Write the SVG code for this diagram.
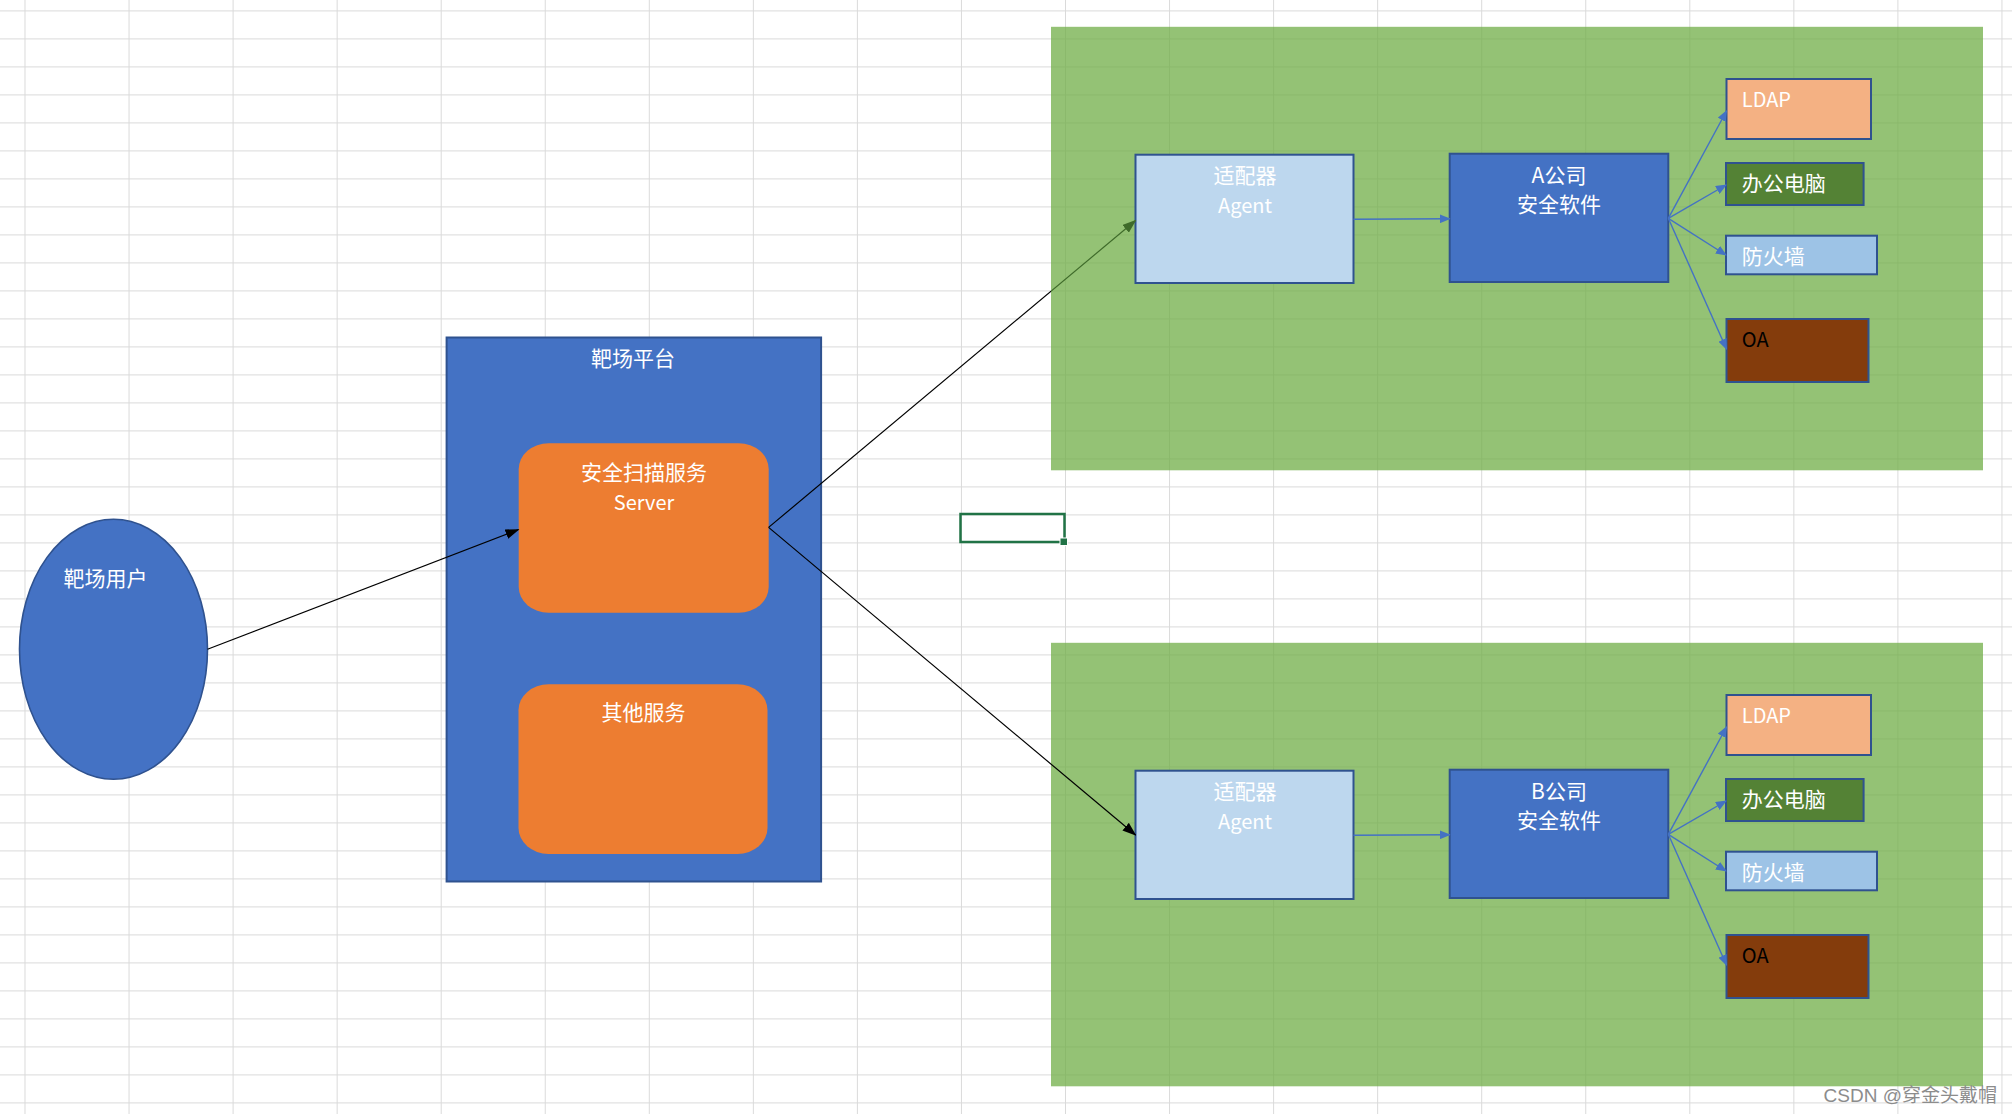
<svg xmlns="http://www.w3.org/2000/svg" width="2012" height="1114" viewBox="0 0 2012 1114">
<style>
  text { font-family: 'Noto Sans CJK SC', 'Noto Sans', sans-serif; font-size: 21px; fill: #ffffff; }
  .c { text-anchor: middle; }
  .zone { fill: #70AD47; fill-opacity: 0.75; }
  .bx { stroke: #2f528f; stroke-width: 2; }
  .blue { fill: #4472c4; }
  .agent { fill: #bdd7ee; }
  .orange { fill: #ed7d31; }
  .ldap { fill: #f4b183; }
  .pc { fill: #548235; }
  .fw { fill: #9dc3e6; }
  .oa { fill: #843c0c; }
  .lat { font-size: 20px; }
  .blk { stroke: #000; stroke-width: 1.2; fill: none; }
  .bl { stroke: #4472c4; stroke-width: 1.4; fill: none; marker-end: url(#mb); }
</style>
<defs>
  <pattern id="grid" x="24.5" y="10.4" width="104.05" height="28" patternUnits="userSpaceOnUse">
    <path d="M0.5,0 V28 M0,0.5 H104.05" stroke="#dadada" stroke-width="1" fill="none"/>
  </pattern>
  <marker id="mk" markerWidth="14" markerHeight="10" refX="13" refY="5" orient="auto" markerUnits="userSpaceOnUse">
    <path d="M0,0 L14,5 L0,10 z" fill="#000"/>
  </marker>
  <marker id="mg" markerWidth="14" markerHeight="10" refX="13" refY="5" orient="auto" markerUnits="userSpaceOnUse">
    <path d="M0,0 L14,5 L0,10 z" fill="#3f6b2a"/>
  </marker>
  <marker id="mb" markerWidth="11" markerHeight="9" refX="10" refY="4.5" orient="auto" markerUnits="userSpaceOnUse">
    <path d="M0,0 L11,4.5 L0,9 z" fill="#4472c4"/>
  </marker>
  <linearGradient id="gtop" gradientUnits="userSpaceOnUse" x1="768.6" y1="527.4" x2="1135.6" y2="220.5">
    <stop offset="0" stop-color="#000"/>
    <stop offset="0.7695" stop-color="#000"/>
    <stop offset="0.7695" stop-color="#3f6b2a"/>
    <stop offset="1" stop-color="#3f6b2a"/>
  </linearGradient>
</defs>

<rect x="0" y="0" width="2012" height="1114" fill="#ffffff"/>
<rect x="0" y="0" width="2012" height="1114" fill="url(#grid)"/>

<g id="selected-cell">
  <rect x="960.5" y="514" width="104" height="28" fill="none" stroke="#217346" stroke-width="2.5"/>
  <rect x="1060" y="538" width="7.5" height="7.5" fill="#217346" stroke="#ffffff" stroke-width="1"/>
</g>

<g id="zone-a"><rect class="zone" x="1051" y="26.8" width="932" height="443.5"/></g>
<g id="zone-b"><rect class="zone" x="1051" y="642.8" width="932" height="443.5"/></g>

<g id="platform">
  <rect class="blue bx" x="446.6" y="337.5" width="374.5" height="544"/>
  <text class="c" x="633" y="366">靶场平台</text>
</g>
<g id="scan-server">
  <rect class="orange" x="518.7" y="443.2" width="250" height="169.6" rx="30" ry="26"/>
  <text class="c" x="644" y="480">安全扫描服务</text>
  <text class="c lat" x="644" y="510">Server</text>
</g>
<g id="other-services">
  <rect class="orange" x="518.5" y="684.3" width="249" height="169.6" rx="30" ry="26"/>
  <text class="c" x="643.5" y="720">其他服务</text>
</g>
<g id="user">
  <ellipse class="blue" cx="113.5" cy="649.3" rx="94" ry="130" stroke="#2f528f" stroke-width="1.6"/>
  <text class="c" x="105.5" y="586">靶场用户</text>
</g>

<g id="agent-a">
  <rect class="agent bx" x="1135.5" y="154.7" width="218" height="128.3"/>
  <text class="c" x="1245" y="183">适配器</text>
  <text class="c lat" x="1245" y="213">Agent</text>
</g>
<g id="soft-a">
  <rect class="blue bx" x="1449.7" y="153.7" width="218.6" height="128.3"/>
  <text class="c" x="1559" y="183">A公司</text>
  <text class="c" x="1559" y="212">安全软件</text>
</g>
<g id="ldap-a">
  <rect class="ldap bx" x="1726.5" y="79" width="144.5" height="60"/>
  <text class="lat" x="1741.8" y="106.7">LDAP</text>
</g>
<g id="pc-a">
  <rect class="pc bx" x="1726" y="163" width="137.6" height="42"/>
  <text x="1741.8" y="191">办公电脑</text>
</g>
<g id="fw-a">
  <rect class="fw bx" x="1726" y="235.7" width="151" height="38.6"/>
  <text x="1741.8" y="263.5">防火墙</text>
</g>
<g id="oa-a">
  <rect class="oa bx" x="1726.5" y="319" width="142" height="63"/>
  <text class="lat" x="1741.8" y="346.7" style="fill:#000">OA</text>
</g>

<g id="agent-b">
  <rect class="agent bx" x="1135.5" y="770.7" width="218" height="128.3"/>
  <text class="c" x="1245" y="799">适配器</text>
  <text class="c lat" x="1245" y="829">Agent</text>
</g>
<g id="soft-b">
  <rect class="blue bx" x="1449.7" y="769.7" width="218.6" height="128.3"/>
  <text class="c" x="1559" y="799">B公司</text>
  <text class="c" x="1559" y="828">安全软件</text>
</g>
<g id="ldap-b">
  <rect class="ldap bx" x="1726.5" y="695" width="144.5" height="60"/>
  <text class="lat" x="1741.8" y="722.7">LDAP</text>
</g>
<g id="pc-b">
  <rect class="pc bx" x="1726" y="779" width="137.6" height="42"/>
  <text x="1741.8" y="807">办公电脑</text>
</g>
<g id="fw-b">
  <rect class="fw bx" x="1726" y="851.7" width="151" height="38.6"/>
  <text x="1741.8" y="879.5">防火墙</text>
</g>
<g id="oa-b">
  <rect class="oa bx" x="1726.5" y="935" width="142" height="63"/>
  <text class="lat" x="1741.8" y="962.7" style="fill:#000">OA</text>
</g>

<g id="connectors">
  <line class="blk" x1="207.5" y1="649.3" x2="518.5" y2="529.5" marker-end="url(#mk)"/>
  <line x1="768.6" y1="527.4" x2="1135.6" y2="220.5" stroke="url(#gtop)" stroke-width="1.2" marker-end="url(#mg)"/>
  <line class="blk" x1="768.6" y1="527.4" x2="1135.6" y2="835" marker-end="url(#mk)"/>
  <line class="bl" x1="1353.5" y1="219.3" x2="1449.7" y2="218.7"/>
  <line class="bl" x1="1668.3" y1="218.3" x2="1726.5" y2="111"/>
  <line class="bl" x1="1668.3" y1="218.3" x2="1726" y2="185"/>
  <line class="bl" x1="1668.3" y1="218.3" x2="1726" y2="255"/>
  <line class="bl" x1="1668.3" y1="218.3" x2="1726.5" y2="349"/>
  <line class="bl" x1="1353.5" y1="835.3" x2="1449.7" y2="834.7"/>
  <line class="bl" x1="1668.3" y1="834.3" x2="1726.5" y2="727"/>
  <line class="bl" x1="1668.3" y1="834.3" x2="1726" y2="801"/>
  <line class="bl" x1="1668.3" y1="834.3" x2="1726" y2="871"/>
  <line class="bl" x1="1668.3" y1="834.3" x2="1726.5" y2="965"/>
</g>

<text x="1997" y="1102" style="font-family:'Liberation Sans','Noto Sans CJK SC',sans-serif;font-size:19px;fill:#8c8c8c;text-anchor:end">CSDN @穿金头戴帽</text>
</svg>
